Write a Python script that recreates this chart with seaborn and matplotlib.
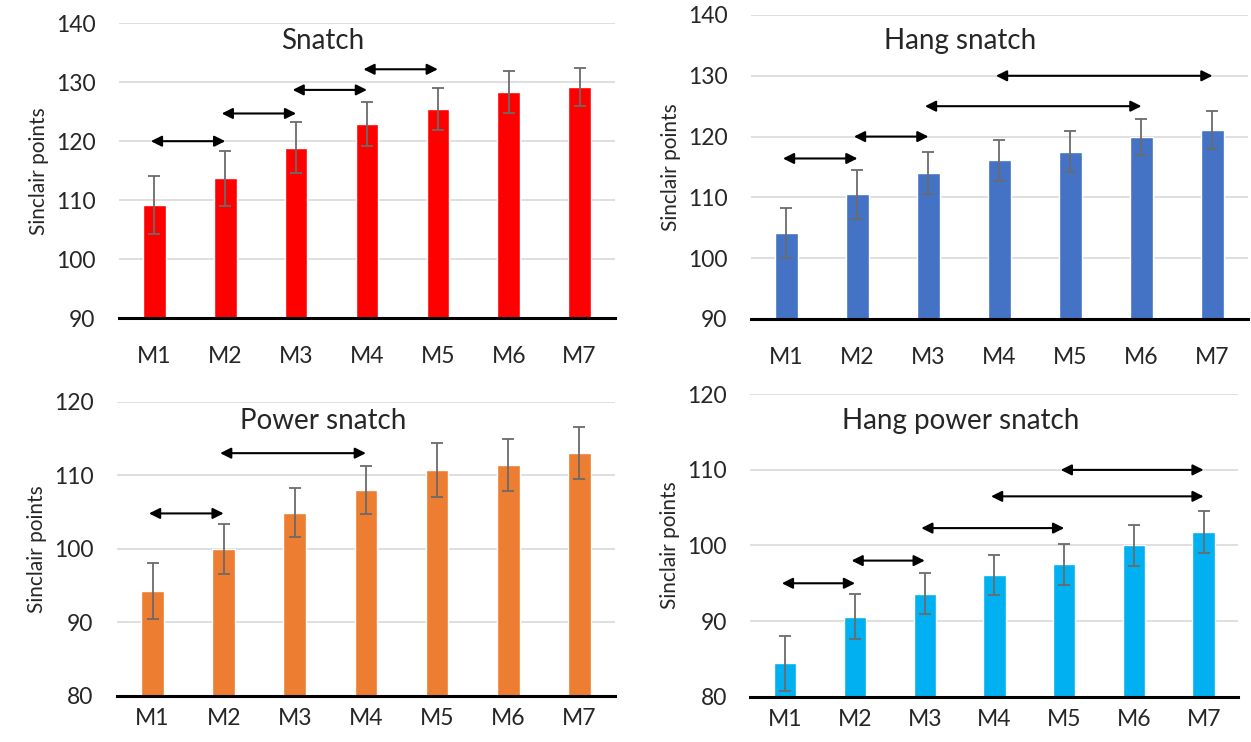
import numpy as np
import pandas as pd
import matplotlib
matplotlib.use("Agg")
import matplotlib.pyplot as plt
import seaborn as sns

sns.set_theme(style="white")
plt.rcParams['font.family'] = ['Lato', 'DejaVu Sans']

sessions = ["M1", "M2", "M3", "M4", "M5", "M6", "M7"]

# means and SD (Sinclair points)
snatch_mean = [109.2, 113.7, 118.9, 122.9, 125.5, 128.3, 129.2]
snatch_sd = [4.9, 4.7, 4.3, 3.8, 3.6, 3.6, 3.2]
hang_mean = [104.2, 110.5, 114.0, 116.1, 117.5, 119.9, 121.1]
hang_sd = [4.1, 4.0, 3.5, 3.4, 3.4, 3.0, 3.1]
power_mean = [94.2, 100.0, 104.9, 108.0, 110.7, 111.4, 113.0]
power_sd = [3.8, 3.4, 3.3, 3.3, 3.7, 3.5, 3.5]
hangpower_mean = [84.4, 90.6, 93.6, 96.1, 97.5, 100.0, 101.8]
hangpower_sd = [3.6, 3.0, 2.7, 2.7, 2.7, 2.7, 2.8]

# significant differences: (from session index, to session index, y level)
snatch_arrows = [(0, 1, 120.0), (1, 2, 124.7), (2, 3, 128.7), (3, 4, 132.2)]
hang_arrows = [(0, 1, 116.4), (1, 2, 120.0), (2, 5, 125.0), (3, 6, 130.0)]
power_arrows = [(0, 1, 104.8), (1, 3, 113.0)]
hangpower_arrows = [(0, 1, 95.0), (1, 2, 98.0), (2, 4, 102.3), (3, 6, 106.5), (4, 6, 110.0)]

panels = [
    ("Snatch", snatch_mean, snatch_sd, snatch_arrows, "#FF0000", (90, 140),
     [0.0951, 0.5714, 0.3965, 0.3972], (0.41, 0.94), 20),
    ("Hang snatch", hang_mean, hang_sd, hang_arrows, "#4472C4", (90, 140),
     [0.6003, 0.5701, 0.3973, 0.4097], (0.42, 0.915), 20),
    ("Power snatch", power_mean, power_sd, power_arrows, "#ED7D31", (80, 120),
     [0.0935, 0.0624, 0.3980, 0.3962], (0.415, 0.935), 9),
    ("Hang power snatch", hangpower_mean, hangpower_sd, hangpower_arrows, "#00B0F0", (80, 120),
     [0.5999, 0.0611, 0.3901, 0.4075], (0.43, 0.912), 9),
]

fig = plt.figure(figsize=(12.51, 7.42), dpi=100)

for title, means, sds, arrows, color, ylim, rect, tpos, xpad in panels:
    ax = fig.add_axes(rect)
    df = pd.DataFrame({"session": sessions, "points": means})
    sns.barplot(data=df, x="session", y="points", color=color, width=0.32,
                saturation=1, ax=ax, zorder=2)
    ax.errorbar(np.arange(len(sessions)), means, yerr=sds, fmt="none",
                ecolor="#6b6b6b", elinewidth=1.3, capsize=4, capthick=1.3, zorder=3)
    for a, b, y in arrows:
        ax.annotate("", xy=(b, y), xytext=(a - 0.05, y),
                    arrowprops=dict(arrowstyle="<|-|>", color="black", lw=1.5,
                                    mutation_scale=16, shrinkA=0, shrinkB=0))
    ax.set_ylim(*ylim)
    ax.set_yticks(np.arange(ylim[0], ylim[1] + 1, 10))
    ax.set_xlim(-0.5, len(sessions) - 0.5)
    ax.yaxis.grid(True, color="#d9d9d9", lw=1.2, zorder=0)
    ax.set_axisbelow(True)
    for s in ["top", "right", "left"]:
        ax.spines[s].set_visible(False)
    ax.spines["bottom"].set_color("black")
    ax.spines["bottom"].set_linewidth(2.2)
    ax.spines["bottom"].set_zorder(4)
    ax.tick_params(axis="both", length=0, labelsize=16.5, colors="#262626")
    ax.tick_params(axis="y", pad=17)
    ax.tick_params(axis="x", pad=xpad)
    ax.set_xlabel("")
    ax.set_ylabel("Sinclair points", fontsize=15, color="#262626", labelpad=5)
    ax.text(tpos[0], tpos[1], title, transform=ax.transAxes, ha="center",
            va="center", fontsize=20, color="#262626")

fig.savefig("out.png", dpi=100)
